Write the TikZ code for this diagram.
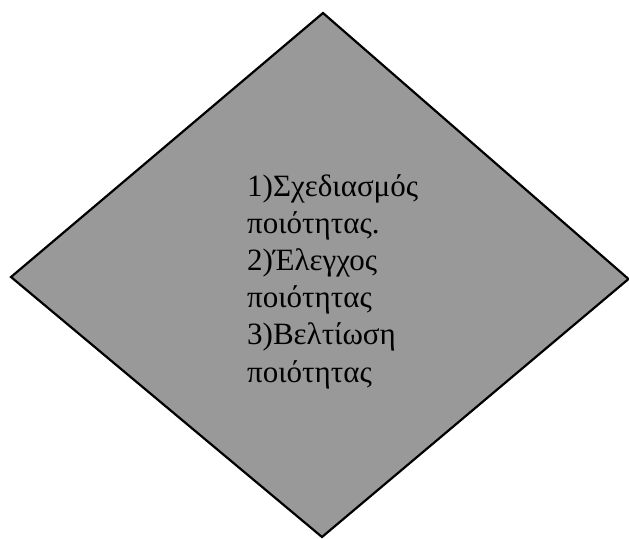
\documentclass[tikz,border=0pt]{standalone}
\usepackage{fontspec}
\setmainfont{Liberation Serif}
\begin{document}
\begin{tikzpicture}[x=1pt,y=1pt,
  shapefill/.style={draw=black, line width=2.2pt, fill=black!40, line join=miter},
  bodytext/.style={inner sep=0pt, align=left, font=\fontsize{31}{37.1}\selectfont}]
\useasboundingbox (0,0) rectangle (629,-538);
\coordinate (T) at (323,-13);
\coordinate (R) at (628.5,-279);
\coordinate (B) at (322,-537);
\coordinate (L) at (11,-277);
\path[shapefill] (T) -- (R) -- (B) -- (L) -- cycle;
\node[bodytext, anchor=base west] (txt) at (247,-382)
  {1)Σχεδιασμός\\ποιότητας.\\2)Έλεγχος\\ποιότητας\\3)Βελτίωση\\ποιότητας};
\end{tikzpicture}
\end{document}
